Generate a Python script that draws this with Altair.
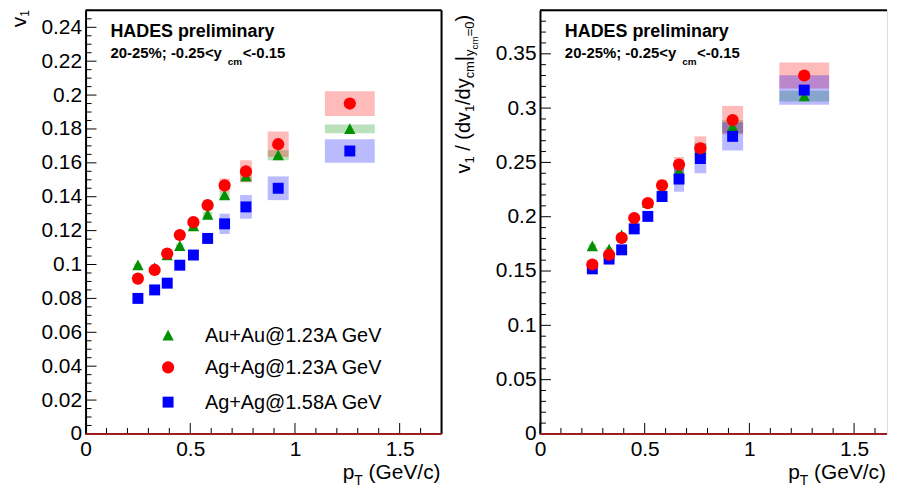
import altair as alt
import pandas as pd

FONT = "Liberation Sans"

# ---------------- data ----------------
pt = [0.25, 0.33, 0.39, 0.45, 0.515, 0.583, 0.664, 0.766, 0.92, 1.262]
pt_half = [0.018, 0.018, 0.018, 0.018, 0.02, 0.022, 0.024, 0.028, 0.05, 0.119]

series = ["Au+Au@1.23A GeV", "Ag+Ag@1.23A GeV", "Ag+Ag@1.58A GeV"]
colors = ["#009000", "#ff0000", "#0000ff"]

# left panel: v1
v1_auau123 = [0.0996, 0.098, 0.1055, 0.111, 0.1227, 0.1295, 0.141, 0.152, 0.1645, 0.180]
v1_auau123_sys = [0.001, 0.001, 0.0012, 0.0013, 0.0015, 0.0018, 0.002, 0.0025, 0.003, 0.0026]
v1_agag123 = [0.0917, 0.0968, 0.1064, 0.1174, 0.125, 0.135, 0.1467, 0.155, 0.171, 0.195]
v1_agag123_sys = [0.0015, 0.0015, 0.0018, 0.002, 0.0025, 0.003, 0.004, 0.0065, 0.0075, 0.0073]
v1_agag158 = [0.080, 0.085, 0.089, 0.0996, 0.1056, 0.1154, 0.124, 0.134, 0.145, 0.167]
v1_agag158_sys = [0.0015, 0.0015, 0.002, 0.0025, 0.003, 0.003, 0.006, 0.007, 0.007, 0.007]

# right panel: v1 / (dv1/dy|y=0)
nv1_auau123 = [0.173, 0.170, 0.183, 0.193, 0.213, 0.224, 0.242, 0.263, 0.283, 0.311]
nv1_auau123_sys = [0.002, 0.002, 0.002, 0.0025, 0.003, 0.003, 0.004, 0.005, 0.006, 0.005]
nv1_agag123 = [0.156, 0.165, 0.1805, 0.1988, 0.2125, 0.229, 0.248, 0.263, 0.289, 0.330]
nv1_agag123_sys = [0.0025, 0.0025, 0.003, 0.0035, 0.004, 0.005, 0.007, 0.011, 0.013, 0.012]
nv1_agag158 = [0.152, 0.161, 0.1695, 0.1888, 0.2003, 0.2186, 0.2347, 0.2536, 0.274, 0.3166]
nv1_agag158_sys = [0.0025, 0.003, 0.004, 0.004, 0.004, 0.005, 0.0117, 0.0136, 0.013, 0.0136]

x_major = [0, 0.5, 1, 1.5]
x_minor_all = [round(i * 0.1, 2) for i in range(1, 18) if i % 5]
left_y_major = [round(i * 0.02, 2) for i in range(13)]
left_y_minor = [round(i * 0.005, 3) for i in range(51) if i % 4]
right_y_major = [round(i * 0.05, 2) for i in range(8)]
right_y_minor = [round(i * 0.01, 2) for i in range(40) if i % 5]

# ---------------- layout helpers ----------------
W, H = 358, 426
WR = 349
XMAX_L = 1.7
XMAX_R = WR / (W / XMAX_L)
one = pd.DataFrame({"k": [0]})

ADV = {" ": 278, "(": 333, ")": 333, "/": 278, "|": 260, "=": 584, ".": 278,
       "a": 556, "c": 500, "d": 556, "e": 556, "m": 833, "v": 500, "y": 500,
       "p": 556, "T": 611, "G": 778, "V": 667}


def tw(s, size):
    return sum(ADV.get(ch, 556) for ch in s) / 1000.0 * size


def text_layer(s, x, y, size, bold=False, angle=0, align="left"):
    kw = dict(text=s, font=FONT, fontSize=size,
              fontWeight="bold" if bold else "normal",
              align=align, baseline="alphabetic", color="black")
    if angle:
        kw["angle"] = angle
    return alt.Chart(one).mark_text(**kw).encode(x=alt.value(x), y=alt.value(y))


def run_h(pieces, x0, y0):
    out, x = [], x0
    for s, size, dy in pieces:
        if s.strip():
            out.append(text_layer(s, x, y0 + dy, size))
        x += tw(s, size)
    return out


def run_v(pieces, x0, y0):
    out, y = [], y0
    for s, size, dx in pieces:
        if s.strip():
            out.append(text_layer(s, x0 + dx, y, size, angle=270))
        y -= tw(s, size)
    return out


TRI = "M0,-1L1,0.9L-1,0.9Z"
shapes = [TRI, "circle", "square"]
sizes = [130, 150, 121]


def panel(vals, syss, ydom, ymaj, ymin, width, xmax, ytitle, legend, right_border):
    xs = alt.Scale(domain=[0, xmax], nice=False, zero=False)
    ys = alt.Scale(domain=ydom, nice=False, zero=False)
    xaxis = alt.Axis(values=x_major, format="~g", ticks=False, domain=False, grid=False,
                     title=None, labelFont=FONT, labelFontSize=21, labelColor="black",
                     labelPadding=5, labelFlush=False, labelOverlap=False)
    yaxis = alt.Axis(values=ymaj, format="~g", ticks=False, domain=True, domainColor="black",
                     domainWidth=2, grid=False, title=None, labelFont=FONT, labelFontSize=21,
                     labelColor="black", labelPadding=4, labelFlush=False, labelOverlap=False)
    layers = []
    # systematic boxes
    for i in [0, 1, 2]:
        df = pd.DataFrame({
            "x1": [p - h for p, h in zip(pt, pt_half)],
            "x2": [p + h for p, h in zip(pt, pt_half)],
            "lo": [v - s for v, s in zip(vals[i], syss[i])],
            "hi": [v + s for v, s in zip(vals[i], syss[i])],
        })
        layers.append(alt.Chart(df).mark_rect(color=colors[i], opacity=0.27).encode(
            x=alt.X("x1:Q", scale=xs, axis=xaxis), x2="x2:Q",
            y=alt.Y("lo:Q", scale=ys, axis=yaxis), y2="hi:Q"))
    # markers
    for i in [0, 2, 1]:
        df = pd.DataFrame({"pt": pt, "v": vals[i]})
        layers.append(alt.Chart(df).mark_point(shape=shapes[i], filled=True, size=sizes[i],
                                               color=colors[i], opacity=1, strokeWidth=0).encode(
            x=alt.X("pt:Q", scale=xs, axis=xaxis), y=alt.Y("v:Q", scale=ys, axis=yaxis)))
    # ticks (inside the frame)
    for vv, ln in [(ymaj, 11), (ymin, 6)]:
        layers.append(alt.Chart(pd.DataFrame({"t": vv})).mark_rule(color="black", strokeWidth=1).encode(
            y=alt.Y("t:Q", scale=ys, axis=yaxis), x=alt.value(0), x2=alt.value(ln)))
    x_minor = [t for t in x_minor_all if t < xmax]
    for vv, ln in [(x_major, 11), (x_minor, 6)]:
        layers.append(alt.Chart(pd.DataFrame({"t": vv})).mark_rule(color="black", strokeWidth=1).encode(
            x=alt.X("t:Q", scale=xs, axis=xaxis), y=alt.value(H), y2=alt.value(H - ln)))
    # frame
    layers.append(alt.Chart(one).mark_rule(color="black", strokeWidth=2).encode(
        y=alt.value(0), x=alt.value(0), x2=alt.value(width)))
    if right_border:
        layers.append(alt.Chart(one).mark_rule(color="black", strokeWidth=2).encode(
            x=alt.value(width), y=alt.value(0), y2=alt.value(H)))
    layers.append(alt.Chart(pd.DataFrame({"z": [0]})).mark_rule(color="#9a1f1f", strokeWidth=2).encode(
        y=alt.Y("z:Q", scale=ys, axis=yaxis), x=alt.value(0), x2=alt.value(width)))
    # annotations
    layers.append(text_layer("HADES preliminary", 25, 27, 18, bold=True))
    layers.append(text_layer("20-25%; -0.25<y", 25, 48, 15, bold=True))
    layers.append(text_layer("cm", 143, 55, 10, bold=True))
    layers.append(text_layer("<-0.15", 158, 48, 15, bold=True))
    # x axis title
    xt = [("p", 21, 0), ("T", 14, 6), (" ", 21, 0), ("(GeV/c)", 21, 0)]
    total = sum(tw(s, z) for s, z, _ in xt)
    layers += run_h(xt, width - 1 - total, 471)
    layers += ytitle
    if legend:
        ys_leg = [327, 359, 394]
        for i in range(3):
            layers.append(alt.Chart(one).mark_point(shape=shapes[i], filled=True, size=sizes[i],
                                                    color=colors[i], opacity=1, strokeWidth=0).encode(
                x=alt.value(83), y=alt.value(ys_leg[i])))
            layers.append(text_layer(series[i], 120, ys_leg[i] + 7, 20))
    return alt.layer(*layers).properties(width=width, height=H)


left_title = run_v([("v", 21, 0), ("1", 12, 3)], -60, 17)
right_title = run_v([("v", 20, 0), ("1", 13, 4), (" ", 20, 0), ("/ (dv", 20, 0), ("1", 13, 4),
                     ("/dy", 20, 0), ("cm", 13, 4), ("|", 20, 0), ("y", 13, 4), ("cm", 10, 8),
                     ("=0", 13, 4), (")", 20, 0)], -70, 164)

left = panel([v1_auau123, v1_agag123, v1_agag158],
             [v1_auau123_sys, v1_agag123_sys, v1_agag158_sys],
             [0, 0.25], left_y_major, left_y_minor, W, XMAX_L, left_title, True, True)
right = panel([nv1_auau123, nv1_agag123, nv1_agag158],
              [nv1_auau123_sys, nv1_agag123_sys, nv1_agag158_sys],
              [0, 0.39], right_y_major, right_y_minor, WR, XMAX_R, right_title, False, False)

chart = alt.hconcat(left, right, spacing=10).properties(
    padding={"left": 0, "right": 0, "top": -1, "bottom": 0}
).configure_view(stroke=None).configure(background="white")

chart.save("out.html", embed_options={"renderer": "svg", "actions": False})
